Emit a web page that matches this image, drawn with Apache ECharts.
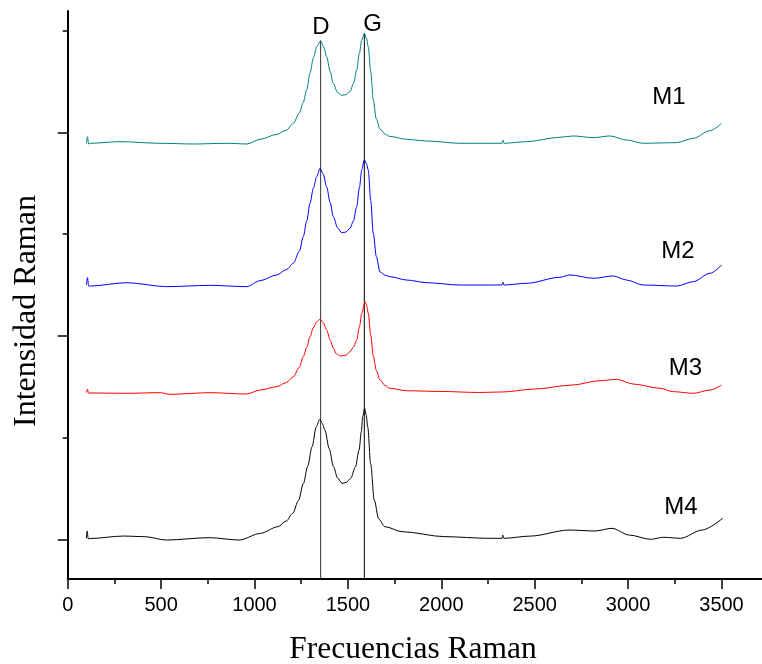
<!DOCTYPE html>
<html>
<head>
<meta charset="utf-8">
<script src="https://cdn.jsdelivr.net/npm/echarts@6/dist/echarts.min.js"></script>
<style>html,body{margin:0;padding:0;background:#fff;}#c{width:762px;height:664px;}</style>
</head>
<body>
<div id="c"></div>
<script>
// Raman shift (cm-1) and stacked intensity (arbitrary units, offset per sample)
const m1 = [[100,38.92],[106,39.57],[112,38.85],[120,38.92],[280,39.08],[495,38.92],[672,38.85],[853,38.92],[960,38.85],[1030,39.31],[1120,39.80],[1170,40.2],[1208,40.88],[1240,41.9],[1260,42.88],[1280,44.2],[1297,45.83],[1315,47.3],[1333,48.41],[1354,49.00],[1370,48.4],[1386,47.43],[1405,46.0],[1421,44.82],[1445,43.9],[1467,43.64],[1490,43.7],[1511,43.99],[1530,44.8],[1547,46.12],[1562,47.8],[1574,49.07],[1588,49.73],[1600,49.2],[1609,48.41],[1622,46.0],[1636,43.17],[1652,41.3],[1672,40.32],[1700,39.8],[1725,39.59],[1815,39.31],[1922,39.14],[2100,38.92],[2325,38.92],[2330,39.24],[2335,38.92],[2457,39.08],[2635,39.51],[2706,39.64],[2814,39.47],[2903,39.64],[2992,39.24],[3081,38.92],[3260,38.98],[3349,39.41],[3438,40.16],[3501,40.88]];
const m2 = [[100,24.99],[106,25.71],[112,24.89],[120,24.89],[316,25.22],[530,24.83],[762,24.96],[958,24.83],[1030,25.42],[1119,25.98],[1170,26.5],[1208,27.13],[1240,28.3],[1261,29.74],[1280,31.3],[1297,33.02],[1315,34.5],[1333,35.64],[1351,36.46],[1368,35.9],[1386,34.65],[1405,33.1],[1422,31.71],[1445,30.6],[1467,30.13],[1490,30.2],[1511,30.57],[1530,31.3],[1547,32.69],[1562,34.6],[1574,36.30],[1588,37.28],[1600,36.9],[1609,36.30],[1622,33.3],[1636,30.07],[1652,27.8],[1672,26.27],[1700,25.95],[1725,25.81],[1815,25.48],[1922,25.22],[2100,24.99],[2325,24.99],[2330,25.29],[2335,24.99],[2457,25.16],[2635,25.75],[2689,25.98],[2814,25.65],[2921,25.88],[2992,25.48],[3081,24.99],[3260,24.89],[3349,25.32],[3438,26.14],[3501,26.96]];
const m3 = [[100,14.41],[106,14.74],[112,14.35],[120,14.38],[316,14.35],[495,14.41],[548,14.25],[762,14.41],[958,14.28],[1030,14.67],[1119,15.00],[1170,15.4],[1208,15.98],[1240,16.9],[1261,17.95],[1280,18.9],[1297,19.91],[1315,20.8],[1333,21.39],[1351,21.62],[1368,21.3],[1386,20.57],[1405,19.6],[1422,18.77],[1440,18.2],[1461,18.01],[1490,18.1],[1511,18.44],[1530,18.9],[1547,19.59],[1562,20.9],[1574,22.21],[1592,23.35],[1600,23.0],[1609,22.21],[1622,20.1],[1636,18.0],[1652,16.6],[1672,15.66],[1700,15.1],[1725,14.84],[1815,14.60],[2000,14.53],[2200,14.43],[2330,14.48],[2500,14.77],[2700,15.16],[2850,15.59],[2939,15.72],[3028,15.26],[3171,14.84],[3242,14.51],[3349,14.35],[3438,14.67],[3500,15.16]];
const m4 = [[100,0.10],[104,0.82],[110,0.05],[120,0.08],[299,0.32],[413,0.26],[528,-0.07],[758,0.16],[918,-0.07],[1033,0.59],[1125,1.24],[1170,1.8],[1205,2.56],[1235,3.8],[1262,5.50],[1285,7.2],[1308,9.10],[1331,11.07],[1349,11.79],[1362,11.4],[1377,10.74],[1400,8.9],[1423,7.14],[1445,6.0],[1469,5.50],[1492,5.6],[1515,6.00],[1540,7.1],[1560,8.78],[1572,10.6],[1579,12.05],[1590,12.87],[1598,12.2],[1606,11.07],[1622,7.4],[1641,3.86],[1665,2.0],[1698,1.24],[1790,0.75],[2019,0.26],[2249,0.10],[2325,0.10],[2329,0.42],[2334,0.10],[2478,0.32],[2684,0.91],[2822,0.82],[2914,1.08],[3006,0.42],[3120,0.00],[3189,0.20],[3281,0.10],[3396,0.91],[3506,2.06]];
const dBand = [[1354,-3.9],[1354,49.00]];
const gBand = [[1588,-3.9],[1588,49.73]];
const seriesNames = ['M1','M2','M3','M4'];
const seriesColors = ['#008080','#0000ff','#ff0000','#000000'];
const majorY = [0,20,40];
const minorY = [10,30,50];

const chart = echarts.init(document.getElementById('c'), null, {renderer:'canvas'});
const lineS = (name, data, color) => ({
  name, type:'line', data, showSymbol:false, symbol:'none', smooth:0.3, smoothMonotone:'x',
  lineStyle:{color, width:1}, z:3, animation:false
});
chart.setOption({
  animation:false,
  backgroundColor:'#fff',
  grid:{left:67.7, top:11, height:568, width:700.5, containLabel:false, outerBoundsMode:'none'},
  xAxis:{type:'value', min:0, max:3750, interval:500,
    axisLine:{onZero:false, lineStyle:{color:'#000', width:2}},
    axisTick:{show:true, length:10, lineStyle:{color:'#000', width:1.5}},
    minorTick:{show:true, splitNumber:2, length:5, lineStyle:{color:'#000', width:1.5}},
    splitLine:{show:false},
    axisLabel:{color:'#000', fontSize:20, fontFamily:'Liberation Sans, Arial', margin:16,
      formatter:v => v <= 3500 ? String(v) : ''}
  },
  yAxis:[
    {type:'value', min:-3.9, max:51.92, position:'left',
      axisLine:{onZero:false, show:true, lineStyle:{color:'#000', width:2}},
      axisTick:{show:true, length:10, customValues:majorY, lineStyle:{color:'#000', width:1.5}},
      axisLabel:{show:false}, splitLine:{show:false}},
    {type:'value', min:-3.9, max:51.92, position:'left',
      axisLine:{show:false},
      axisTick:{show:true, length:5, customValues:minorY, lineStyle:{color:'#000', width:1.5}},
      axisLabel:{show:false}, splitLine:{show:false}}
  ],
  series:[
    {type:'line', data:dBand, showSymbol:false, symbol:'none', lineStyle:{color:'#333', width:1}, z:2},
    {type:'line', data:gBand, showSymbol:false, symbol:'none', lineStyle:{color:'#000', width:1}, z:2},
    lineS(seriesNames[0], m1, seriesColors[0]),
    lineS(seriesNames[1], m2, seriesColors[1]),
    lineS(seriesNames[2], m3, seriesColors[2]),
    lineS(seriesNames[3], m4, seriesColors[3])
  ],
  graphic:[
    {type:'text', x:321, y:27, style:{text:'D', fontSize:24, fontFamily:'Liberation Sans, Arial', fill:'#000', textAlign:'center', textVerticalAlign:'middle'}},
    {type:'text', x:372.5, y:24, style:{text:'G', fontSize:24, fontFamily:'Liberation Sans, Arial', fill:'#000', textAlign:'center', textVerticalAlign:'middle'}},
    {type:'text', x:669, y:97, style:{text:'M1', fontSize:24, fontFamily:'Liberation Sans, Arial', fill:'#000', textAlign:'center', textVerticalAlign:'middle'}},
    {type:'text', x:678, y:251, style:{text:'M2', fontSize:24, fontFamily:'Liberation Sans, Arial', fill:'#000', textAlign:'center', textVerticalAlign:'middle'}},
    {type:'text', x:685.5, y:368, style:{text:'M3', fontSize:24, fontFamily:'Liberation Sans, Arial', fill:'#000', textAlign:'center', textVerticalAlign:'middle'}},
    {type:'text', x:681, y:507, style:{text:'M4', fontSize:24, fontFamily:'Liberation Sans, Arial', fill:'#000', textAlign:'center', textVerticalAlign:'middle'}},
    {type:'text', x:413, y:650, style:{text:'Frecuencias Raman', fontSize:31.5, fontFamily:'Liberation Serif, Times New Roman', fill:'#000', textAlign:'center', textVerticalAlign:'middle'}},
    {type:'text', x:27, y:311, rotation:Math.PI/2, style:{text:'Intensidad Raman', fontSize:32, fontFamily:'Liberation Serif, Times New Roman', fill:'#000', textAlign:'center', textVerticalAlign:'middle'}}
  ]
});
</script>
</body>
</html>
